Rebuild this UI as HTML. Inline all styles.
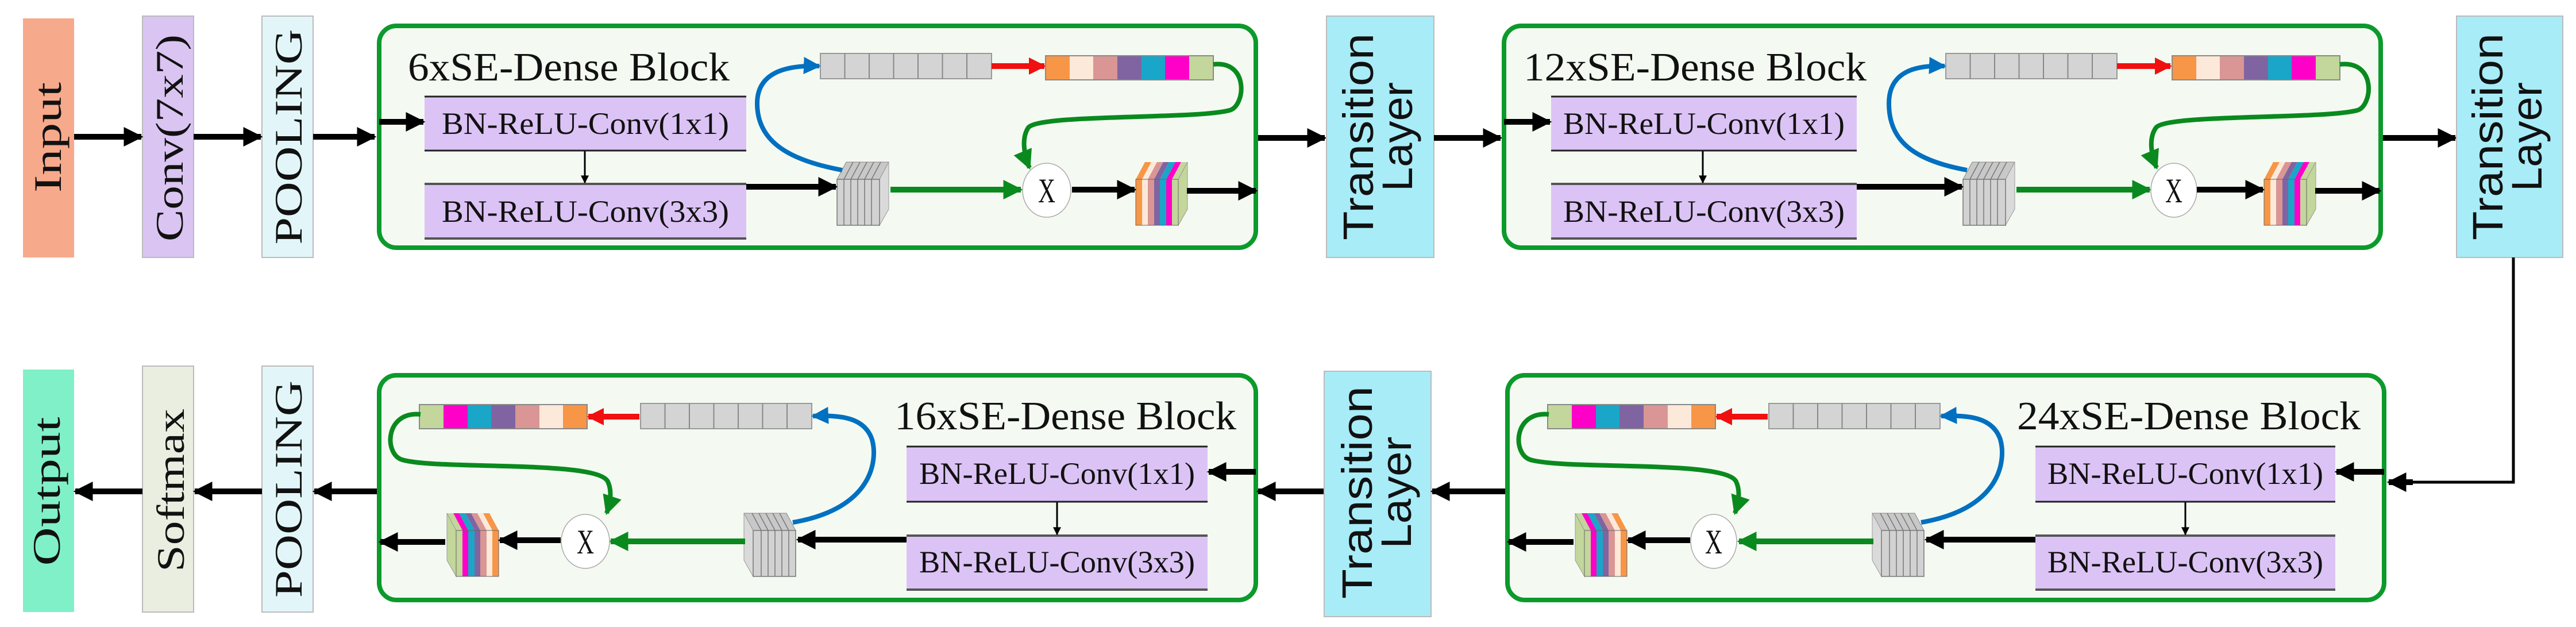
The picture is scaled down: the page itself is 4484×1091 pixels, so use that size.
<!DOCTYPE html>
<html><head><meta charset="utf-8"><style>
html,body{margin:0;padding:0;background:#fff;}
svg{display:block;}
.lbl{font-family:"Liberation Serif",serif;fill:#111;}
.tl{font-family:"Liberation Sans",sans-serif;fill:#111;}
</style></head><body>
<svg width="4484" height="1091" viewBox="0 0 4484 1091" xmlns="http://www.w3.org/2000/svg">
<defs>
<marker id="ab" viewBox="0 0 10 10" refX="9" refY="5" markerUnits="userSpaceOnUse" markerWidth="34" markerHeight="40" orient="auto"><path d="M0,0 L10,5 L0,10 z" fill="#000"/></marker>
<marker id="abs" viewBox="0 0 10 10" refX="9" refY="5" markerUnits="userSpaceOnUse" markerWidth="16" markerHeight="14" orient="auto"><path d="M0,0 L10,5 L0,10 z" fill="#000"/></marker>
<marker id="ag" viewBox="0 0 10 10" refX="9" refY="5" markerUnits="userSpaceOnUse" markerWidth="34" markerHeight="36" orient="auto"><path d="M0,0 L10,5 L0,10 z" fill="#0a8a1e"/></marker>
<marker id="ar" viewBox="0 0 10 10" refX="9" refY="5" markerUnits="userSpaceOnUse" markerWidth="30" markerHeight="30" orient="auto"><path d="M0,0 L10,5 L0,10 z" fill="#f01010"/></marker>
<marker id="abl" viewBox="0 0 10 10" refX="9" refY="5" markerUnits="userSpaceOnUse" markerWidth="30" markerHeight="32" orient="auto"><path d="M0,0 L10,5 L0,10 z" fill="#0070c0"/></marker>
<symbol id="gs" viewBox="0 0 90 110" width="90" height="110" overflow="visible">
 <polygon points="0,30 16,0 90,0 74,30" fill="#c8c8c8" stroke="#888" stroke-width="1"/>
 <g stroke="#777" stroke-width="1.5"><line x1="12" y1="30" x2="28" y2="0"/><line x1="24" y1="30" x2="40" y2="0"/><line x1="36" y1="30" x2="52" y2="0"/><line x1="48" y1="30" x2="64" y2="0"/><line x1="60" y1="30" x2="76" y2="0"/></g>
 <polygon points="74,30 90,0 90,82 74,110" fill="#dadada" stroke="#999" stroke-width="1"/>
 <rect x="0" y="30" width="74" height="80" fill="#d2d2d2" stroke="#777" stroke-width="1.5"/>
 <g stroke="#777" stroke-width="1.5"><line x1="12" y1="30" x2="12" y2="110"/><line x1="24" y1="30" x2="24" y2="110"/><line x1="36" y1="30" x2="36" y2="110"/><line x1="48" y1="30" x2="48" y2="110"/><line x1="60" y1="30" x2="60" y2="110"/></g>
</symbol>
<symbol id="cs" viewBox="0 0 90 110" width="90" height="110" overflow="visible">
 <polygon points="0,30 16,0 27,0 11,30" fill="#f79646"/><polygon points="11,30 27,0 37,0 21,30" fill="#fde9d9"/>
 <polygon points="21,30 37,0 48,0 32,30" fill="#d99694"/><polygon points="32,30 48,0 58,0 42,30" fill="#8064a2"/>
 <polygon points="42,30 58,0 69,0 53,30" fill="#1aa6c8"/><polygon points="53,30 69,0 79,0 63,30" fill="#ff00c8"/>
 <polygon points="63,30 79,0 90,0 74,30" fill="#c3d69b"/>
 <polygon points="74,30 90,0 90,82 74,110" fill="#c3d69b" stroke="#999" stroke-width="1"/>
 <rect x="0" y="30" width="11" height="80" fill="#f79646"/><rect x="11" y="30" width="10" height="80" fill="#fde9d9"/>
 <rect x="21" y="30" width="11" height="80" fill="#d99694"/><rect x="32" y="30" width="10" height="80" fill="#8064a2"/>
 <rect x="42" y="30" width="11" height="80" fill="#1aa6c8"/><rect x="53" y="30" width="10" height="80" fill="#ff00c8"/>
 <rect x="63" y="30" width="11" height="80" fill="#c3d69b"/>
 <rect x="0" y="30" width="74" height="80" fill="none" stroke="#666" stroke-width="1"/>
</symbol>
<symbol id="gbar" viewBox="0 0 298 44" width="298" height="44" overflow="visible">
 <rect x="0" y="0" width="298" height="44" fill="#d4d4d4" stroke="#999" stroke-width="2"/>
 <g stroke="#888" stroke-width="2"><line x1="42.5" y1="0" x2="42.5" y2="44"/><line x1="85" y1="0" x2="85" y2="44"/><line x1="127.5" y1="0" x2="127.5" y2="44"/><line x1="170" y1="0" x2="170" y2="44"/><line x1="212.5" y1="0" x2="212.5" y2="44"/><line x1="255" y1="0" x2="255" y2="44"/></g>
</symbol>
<symbol id="cbar" viewBox="0 0 292 42" width="292" height="42" overflow="visible">
 <rect x="0" y="0" width="42" height="42" fill="#f79646"/><rect x="42" y="0" width="41" height="42" fill="#fde9d9"/>
 <rect x="83" y="0" width="42" height="42" fill="#d99694"/><rect x="125" y="0" width="42" height="42" fill="#8064a2"/>
 <rect x="167" y="0" width="41" height="42" fill="#1aa6c8"/><rect x="208" y="0" width="42" height="42" fill="#ff00c8"/>
 <rect x="250" y="0" width="42" height="42" fill="#c3d69b"/>
 <rect x="0" y="0" width="292" height="42" fill="none" stroke="#888" stroke-width="2"/>
</symbol>
</defs>

<!-- left column top -->
<rect x="40" y="32" width="89" height="416" fill="#f7a98b"/>
<text class="lbl" font-size="68" text-anchor="middle" textLength="192" lengthAdjust="spacingAndGlyphs" transform="translate(106,239) rotate(-90)">Input</text>
<rect x="248" y="28" width="89" height="420" fill="#dac4f2" stroke="#bbb" stroke-width="2"/>
<text class="lbl" font-size="68" text-anchor="middle" textLength="360" lengthAdjust="spacingAndGlyphs" transform="translate(318,240) rotate(-90)">Conv(7x7)</text>
<rect x="456" y="28" width="89" height="420" fill="#e2f6f9" stroke="#bbb" stroke-width="2"/>
<text class="lbl" font-size="68" text-anchor="middle" textLength="375" lengthAdjust="spacingAndGlyphs" transform="translate(525,238) rotate(-90)">POOLING</text>
<line x1="129" y1="238" x2="246" y2="238" stroke="#000" stroke-width="10" marker-end="url(#ab)"/>
<line x1="337" y1="238" x2="454" y2="238" stroke="#000" stroke-width="10" marker-end="url(#ab)"/>
<line x1="545" y1="238" x2="652" y2="238" stroke="#000" stroke-width="10" marker-end="url(#ab)"/>

<!-- top block 1 -->
<g>
<rect x="660" y="45" width="1526" height="386" rx="30" fill="#f4faf2" stroke="#0c9a2c" stroke-width="8"/>
<text class="lbl" x="710" y="140" font-size="70" textLength="560" lengthAdjust="spacingAndGlyphs">6xSE-Dense Block</text>
<rect x="739" y="167" width="560" height="96" fill="#dcc3f5"/>
<line x1="739" y1="168" x2="1299" y2="168" stroke="#222" stroke-width="3"/><line x1="739" y1="262" x2="1299" y2="262" stroke="#222" stroke-width="3"/>
<text class="lbl" x="1019" y="233" font-size="54" text-anchor="middle" textLength="500" lengthAdjust="spacingAndGlyphs">BN-ReLU-Conv(1x1)</text>
<rect x="739" y="318" width="560" height="99" fill="#dcc3f5"/>
<line x1="739" y1="320" x2="1299" y2="320" stroke="#555" stroke-width="4"/><line x1="739" y1="415" x2="1299" y2="415" stroke="#555" stroke-width="4"/>
<text class="lbl" x="1019" y="386" font-size="54" text-anchor="middle" textLength="500" lengthAdjust="spacingAndGlyphs">BN-ReLU-Conv(3x3)</text>
<line x1="1018" y1="263" x2="1018" y2="318" stroke="#000" stroke-width="3" marker-end="url(#abs)"/>
<line x1="660" y1="212" x2="737" y2="212" stroke="#000" stroke-width="10" marker-end="url(#ab)"/>
<use href="#gbar" x="1428" y="93"/>
<line x1="1726" y1="115" x2="1818" y2="115" stroke="#f01010" stroke-width="10" marker-end="url(#ar)"/>
<use href="#cbar" x="1820" y="97"/>
<use href="#gs" x="1457" y="282"/>
<use href="#cs" x="1977" y="282"/>
<line x1="1299" y1="325" x2="1455" y2="325" stroke="#000" stroke-width="10" marker-end="url(#ab)"/>
<line x1="1550" y1="330" x2="1777" y2="330" stroke="#0a8a1e" stroke-width="10" marker-end="url(#ag)"/>
<ellipse cx="1822" cy="331" rx="42" ry="47" fill="#fff" stroke="#aaa" stroke-width="1.5"/>
<text class="lbl" x="1822" y="352" font-size="60" text-anchor="middle" textLength="30" lengthAdjust="spacingAndGlyphs">X</text>
<line x1="1866" y1="330" x2="1975" y2="330" stroke="#000" stroke-width="10" marker-end="url(#ab)"/>
<line x1="2066" y1="332" x2="2186" y2="332" stroke="#000" stroke-width="10" marker-end="url(#ab)"/>
<path d="M1466,296 C1380,280 1318,250 1318,180 C1318,125 1370,113 1426,115" fill="none" stroke="#0070c0" stroke-width="8" marker-end="url(#abl)"/>
<path d="M2112,112 C2175,105 2168,185 2140,192 C2080,208 1810,198 1790,222 C1778,240 1782,268 1792,292" fill="none" stroke="#0a8a1e" stroke-width="8" marker-end="url(#ag)"/>
</g>
<line x1="2190" y1="240" x2="2306" y2="240" stroke="#000" stroke-width="10" marker-end="url(#ab)"/>

<rect x="2309" y="28" width="187" height="420" fill="#a8ecf8" stroke="#bbb" stroke-width="2"/>
<text class="tl" font-size="74" text-anchor="middle" textLength="360" lengthAdjust="spacingAndGlyphs" transform="translate(2390,238) rotate(-90)">Transition</text>
<text class="tl" font-size="74" text-anchor="middle" textLength="190" lengthAdjust="spacingAndGlyphs" transform="translate(2458,238) rotate(-90)">Layer</text>
<line x1="2496" y1="240" x2="2612" y2="240" stroke="#000" stroke-width="10" marker-end="url(#ab)"/>

<g transform="translate(1958,0)">
<rect x="660" y="45" width="1526" height="386" rx="30" fill="#f4faf2" stroke="#0c9a2c" stroke-width="8"/>
<text class="lbl" x="694" y="140" font-size="70" textLength="597" lengthAdjust="spacingAndGlyphs">12xSE-Dense Block</text>
<rect x="742" y="167" width="532" height="96" fill="#dcc3f5"/>
<line x1="742" y1="168" x2="1274" y2="168" stroke="#222" stroke-width="3"/><line x1="742" y1="262" x2="1274" y2="262" stroke="#222" stroke-width="3"/>
<text class="lbl" x="1008" y="233" font-size="54" text-anchor="middle" textLength="490" lengthAdjust="spacingAndGlyphs">BN-ReLU-Conv(1x1)</text>
<rect x="742" y="318" width="532" height="99" fill="#dcc3f5"/>
<line x1="742" y1="320" x2="1274" y2="320" stroke="#555" stroke-width="4"/><line x1="742" y1="415" x2="1274" y2="415" stroke="#555" stroke-width="4"/>
<text class="lbl" x="1008" y="386" font-size="54" text-anchor="middle" textLength="490" lengthAdjust="spacingAndGlyphs">BN-ReLU-Conv(3x3)</text>
<line x1="1006" y1="263" x2="1006" y2="318" stroke="#000" stroke-width="3" marker-end="url(#abs)"/>
<line x1="660" y1="212" x2="740" y2="212" stroke="#000" stroke-width="10" marker-end="url(#ab)"/>
<use href="#gbar" x="1429" y="93"/>
<line x1="1727" y1="115" x2="1820" y2="115" stroke="#f01010" stroke-width="10" marker-end="url(#ar)"/>
<use href="#cbar" x="1823" y="97"/>
<use href="#gs" x="1459" y="282"/>
<use href="#cs" x="1983" y="282"/>
<line x1="1274" y1="325" x2="1457" y2="325" stroke="#000" stroke-width="10" marker-end="url(#ab)"/>
<line x1="1552" y1="330" x2="1784" y2="330" stroke="#0a8a1e" stroke-width="10" marker-end="url(#ag)"/>
<ellipse cx="1826" cy="331" rx="40" ry="47" fill="#fff" stroke="#aaa" stroke-width="1.5"/>
<text class="lbl" x="1826" y="352" font-size="60" text-anchor="middle" textLength="30" lengthAdjust="spacingAndGlyphs">X</text>
<line x1="1866" y1="330" x2="1981" y2="330" stroke="#000" stroke-width="10" marker-end="url(#ab)"/>
<line x1="2072" y1="332" x2="2184" y2="332" stroke="#000" stroke-width="10" marker-end="url(#ab)"/>
<path d="M1466,296 C1380,280 1330,250 1330,180 C1330,125 1375,113 1427,115" fill="none" stroke="#0070c0" stroke-width="8" marker-end="url(#abl)"/>
<path d="M2115,112 C2180,105 2172,185 2145,192 C2085,208 1815,198 1795,222 C1782,240 1786,268 1796,292" fill="none" stroke="#0a8a1e" stroke-width="8" marker-end="url(#ag)"/>
</g>
<line x1="4148" y1="240" x2="4274" y2="240" stroke="#000" stroke-width="10" marker-end="url(#ab)"/>
<rect x="4276" y="28" width="185" height="420" fill="#a8ecf8" stroke="#bbb" stroke-width="2"/>
<text class="tl" font-size="74" text-anchor="middle" textLength="360" lengthAdjust="spacingAndGlyphs" transform="translate(4356,238) rotate(-90)">Transition</text>
<text class="tl" font-size="74" text-anchor="middle" textLength="190" lengthAdjust="spacingAndGlyphs" transform="translate(4424,238) rotate(-90)">Layer</text>
<polyline points="4375,448 4375,839 4160,839" fill="none" stroke="#000" stroke-width="5"/>
<line x1="4200" y1="839" x2="4158" y2="839" stroke="#000" stroke-width="10" marker-end="url(#ab)"/>

<!-- bottom left column -->
<rect x="40" y="643" width="89" height="422" fill="#80f0c8"/>
<text class="lbl" font-size="68" text-anchor="middle" textLength="259" lengthAdjust="spacingAndGlyphs" transform="translate(104,855) rotate(-90)">Output</text>
<rect x="248" y="637" width="89" height="428" fill="#e9eee0" stroke="#bbb" stroke-width="2"/>
<text class="lbl" font-size="68" text-anchor="middle" textLength="284" lengthAdjust="spacingAndGlyphs" transform="translate(320,853) rotate(-90)">Softmax</text>
<rect x="456" y="637" width="89" height="428" fill="#e2f6f9" stroke="#bbb" stroke-width="2"/>
<text class="lbl" font-size="68" text-anchor="middle" textLength="378" lengthAdjust="spacingAndGlyphs" transform="translate(525,851) rotate(-90)">POOLING</text>
<line x1="248" y1="855" x2="131" y2="855" stroke="#000" stroke-width="10" marker-end="url(#ab)"/>
<line x1="456" y1="855" x2="339" y2="855" stroke="#000" stroke-width="10" marker-end="url(#ab)"/>
<line x1="656" y1="855" x2="547" y2="855" stroke="#000" stroke-width="10" marker-end="url(#ab)"/>

<!-- bottom block 3 -->
<g>
<rect x="660" y="653" width="1526" height="391" rx="30" fill="#f4faf2" stroke="#0c9a2c" stroke-width="8"/>
<text class="lbl" x="1557" y="747" font-size="70" textLength="595" lengthAdjust="spacingAndGlyphs">16xSE-Dense Block</text>
<rect x="1578" y="776" width="524" height="98" fill="#dcc3f5"/>
<line x1="1578" y1="777" x2="2102" y2="777" stroke="#222" stroke-width="3"/><line x1="1578" y1="873" x2="2102" y2="873" stroke="#222" stroke-width="3"/>
<text class="lbl" x="1840" y="842" font-size="54" text-anchor="middle" textLength="480" lengthAdjust="spacingAndGlyphs">BN-ReLU-Conv(1x1)</text>
<rect x="1578" y="930" width="524" height="98" fill="#dcc3f5"/>
<line x1="1578" y1="932" x2="2102" y2="932" stroke="#555" stroke-width="4"/><line x1="1578" y1="1026" x2="2102" y2="1026" stroke="#555" stroke-width="4"/>
<text class="lbl" x="1840" y="996" font-size="54" text-anchor="middle" textLength="480" lengthAdjust="spacingAndGlyphs">BN-ReLU-Conv(3x3)</text>
<line x1="1840" y1="874" x2="1840" y2="930" stroke="#000" stroke-width="3" marker-end="url(#abs)"/>
<line x1="2186" y1="821" x2="2104" y2="821" stroke="#000" stroke-width="10" marker-end="url(#ab)"/>
<use href="#gbar" x="1115" y="702"/>
<line x1="1113" y1="725" x2="1024" y2="725" stroke="#f01010" stroke-width="10" marker-end="url(#ar)"/>
<g transform="translate(1754,0) scale(-1,1)"><use href="#cbar" x="732" y="704"/></g>
<g transform="translate(2684,0) scale(-1,1)"><use href="#gs" x="1299" y="893"/></g>
<g transform="translate(1643,0) scale(-1,1)"><use href="#cs" x="775" y="893"/></g>
<line x1="1578" y1="939" x2="1389" y2="939" stroke="#000" stroke-width="10" marker-end="url(#ab)"/>
<line x1="1297" y1="942" x2="1063" y2="942" stroke="#0a8a1e" stroke-width="10" marker-end="url(#ag)"/>
<ellipse cx="1019" cy="942" rx="42" ry="47" fill="#fff" stroke="#aaa" stroke-width="1.5"/>
<text class="lbl" x="1019" y="963" font-size="60" text-anchor="middle" textLength="30" lengthAdjust="spacingAndGlyphs">X</text>
<line x1="976" y1="940" x2="870" y2="940" stroke="#000" stroke-width="10" marker-end="url(#ab)"/>
<line x1="775" y1="943" x2="662" y2="943" stroke="#000" stroke-width="10" marker-end="url(#ab)"/>
<path d="M1380,909 C1520,885 1528,800 1518,765 C1505,725 1460,722 1415,724" fill="none" stroke="#0070c0" stroke-width="8" marker-end="url(#abl)"/>
<path d="M732,721 C670,715 668,790 700,800 C760,818 1040,800 1058,838 C1066,855 1062,875 1056,893" fill="none" stroke="#0a8a1e" stroke-width="8" marker-end="url(#ag)"/>
</g>

<line x1="2305" y1="855" x2="2190" y2="855" stroke="#000" stroke-width="10" marker-end="url(#ab)"/>
<rect x="2305" y="646" width="186" height="427" fill="#a8ecf8" stroke="#bbb" stroke-width="2"/>
<text class="tl" font-size="74" text-anchor="middle" textLength="370" lengthAdjust="spacingAndGlyphs" transform="translate(2388,857) rotate(-90)">Transition</text>
<text class="tl" font-size="74" text-anchor="middle" textLength="195" lengthAdjust="spacingAndGlyphs" transform="translate(2456,857) rotate(-90)">Layer</text>
<line x1="2622" y1="855" x2="2493" y2="855" stroke="#000" stroke-width="10" marker-end="url(#ab)"/>

<!-- bottom block 4 -->
<g transform="translate(1964,0)">
<rect x="660" y="653" width="1526" height="391" rx="30" fill="#f4faf2" stroke="#0c9a2c" stroke-width="8"/>
<text class="lbl" x="1547" y="747" font-size="70" textLength="598" lengthAdjust="spacingAndGlyphs">24xSE-Dense Block</text>
<rect x="1579" y="776" width="522" height="98" fill="#dcc3f5"/>
<line x1="1579" y1="777" x2="2101" y2="777" stroke="#222" stroke-width="3"/><line x1="1579" y1="873" x2="2101" y2="873" stroke="#222" stroke-width="3"/>
<text class="lbl" x="1840" y="842" font-size="54" text-anchor="middle" textLength="480" lengthAdjust="spacingAndGlyphs">BN-ReLU-Conv(1x1)</text>
<rect x="1579" y="930" width="522" height="98" fill="#dcc3f5"/>
<line x1="1579" y1="932" x2="2101" y2="932" stroke="#555" stroke-width="4"/><line x1="1579" y1="1026" x2="2101" y2="1026" stroke="#555" stroke-width="4"/>
<text class="lbl" x="1840" y="996" font-size="54" text-anchor="middle" textLength="480" lengthAdjust="spacingAndGlyphs">BN-ReLU-Conv(3x3)</text>
<line x1="1840" y1="874" x2="1840" y2="930" stroke="#000" stroke-width="3" marker-end="url(#abs)"/>
<line x1="2186" y1="821" x2="2103" y2="821" stroke="#000" stroke-width="10" marker-end="url(#ab)"/>
<use href="#gbar" x="1115" y="702"/>
<line x1="1113" y1="725" x2="1024" y2="725" stroke="#f01010" stroke-width="10" marker-end="url(#ar)"/>
<g transform="translate(1754,0) scale(-1,1)"><use href="#cbar" x="732" y="704"/></g>
<g transform="translate(2684,0) scale(-1,1)"><use href="#gs" x="1299" y="893"/></g>
<g transform="translate(1643,0) scale(-1,1)"><use href="#cs" x="775" y="893"/></g>
<line x1="1579" y1="939" x2="1389" y2="939" stroke="#000" stroke-width="10" marker-end="url(#ab)"/>
<line x1="1297" y1="942" x2="1063" y2="942" stroke="#0a8a1e" stroke-width="10" marker-end="url(#ag)"/>
<ellipse cx="1019" cy="942" rx="40" ry="47" fill="#fff" stroke="#aaa" stroke-width="1.5"/>
<text class="lbl" x="1019" y="963" font-size="60" text-anchor="middle" textLength="30" lengthAdjust="spacingAndGlyphs">X</text>
<line x1="978" y1="940" x2="870" y2="940" stroke="#000" stroke-width="10" marker-end="url(#ab)"/>
<line x1="775" y1="943" x2="662" y2="943" stroke="#000" stroke-width="10" marker-end="url(#ab)"/>
<path d="M1380,909 C1520,885 1528,800 1518,765 C1505,725 1460,722 1415,724" fill="none" stroke="#0070c0" stroke-width="8" marker-end="url(#abl)"/>
<path d="M732,721 C670,715 668,790 700,800 C760,818 1040,800 1058,838 C1066,855 1062,875 1056,893" fill="none" stroke="#0a8a1e" stroke-width="8" marker-end="url(#ag)"/>
</g>
</svg>
</body></html>
